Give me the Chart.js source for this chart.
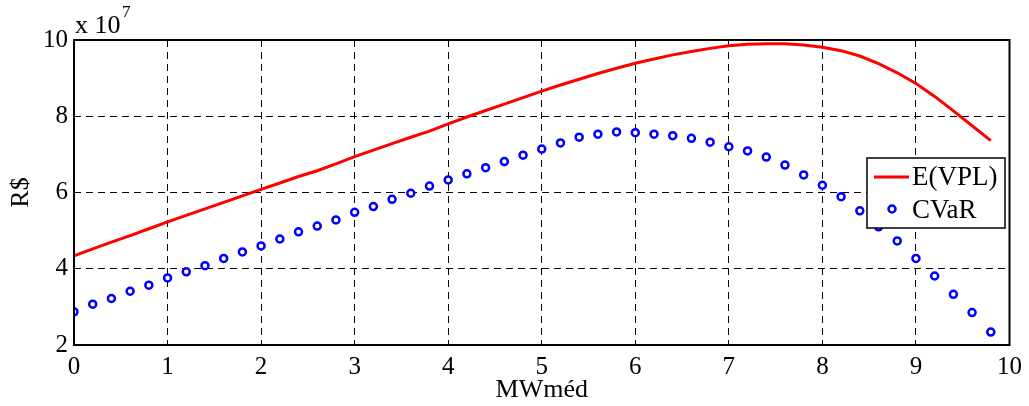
<!DOCTYPE html>
<html lang="pt-br">
<head>
    <meta charset="UTF-8">
    <title>E(VPL) x CVaR</title>
    <script src="https://cdn.jsdelivr.net/npm/chart.js"></script>
    <style>
        html, body { margin: 0; padding: 0; background: #fff; }
        .grafico { width: 1029px; height: 406px; }
    </style>
</head>
<body>
    <div class="grafico">
        <canvas id="myChart"></canvas>
    </div>

<script>
    // Dados (R$ em unidades de 10^7)
    const mwMed = [0, 0.2, 0.4, 0.6, 0.8, 1, 1.2, 1.4, 1.6, 1.8, 2, 2.2, 2.4, 2.6, 2.8,
        3, 3.2, 3.4, 3.6, 3.8, 4, 4.2, 4.4, 4.6, 4.8, 5, 5.2, 5.4, 5.6, 5.8,
        6, 6.2, 6.4, 6.6, 6.8, 7, 7.2, 7.4, 7.6, 7.8, 8, 8.2, 8.4, 8.6, 8.8,
        9, 9.2, 9.4, 9.6, 9.8];
    const eVpl = [4.34, 4.52, 4.70, 4.87, 5.05, 5.23, 5.40, 5.57, 5.74, 5.91,
        6.08, 6.25, 6.42, 6.57, 6.75, 6.94, 7.11, 7.28, 7.45, 7.61,
        7.80, 7.98, 8.15, 8.32, 8.49, 8.66, 8.82, 8.97, 9.12, 9.26,
        9.39, 9.50, 9.61, 9.70, 9.78, 9.85, 9.89, 9.90, 9.90, 9.87,
        9.81, 9.72, 9.58, 9.38, 9.14, 8.86, 8.52, 8.14, 7.75, 7.36];
    const cvar = [2.87, 3.07, 3.22, 3.41, 3.57, 3.76, 3.92, 4.08, 4.27, 4.44,
        4.60, 4.78, 4.97, 5.12, 5.28, 5.48, 5.63, 5.82, 5.98, 6.17,
        6.33, 6.49, 6.65, 6.81, 6.98, 7.14, 7.30, 7.45, 7.53, 7.59,
        7.57, 7.53, 7.49, 7.42, 7.32, 7.20, 7.09, 6.93, 6.72, 6.46,
        6.19, 5.89, 5.52, 5.10, 4.73, 4.27, 3.81, 3.33, 2.85, 2.34];
    const xTicks = [0, 1, 2, 3, 4, 5, 6, 7, 8, 9, 10];
    const yTicks = [2, 4, 6, 8, 10];
    const legendas = ['E(VPL)', 'CVaR'];

    const fonte = '"Liberation Serif", "Times New Roman", serif';

    // caixa dos eixos + legenda + "x 10^7"
    const extras = {
        id: 'extras',
        afterDraw(chart) {
            const ctx = chart.ctx;
            const a = chart.chartArea;
            ctx.save();
            ctx.strokeStyle = '#000';
            ctx.lineWidth = 2;
            ctx.strokeRect(a.left, a.top, a.right - a.left, a.bottom - a.top);

            ctx.fillStyle = '#000';
            ctx.textBaseline = 'alphabetic';
            ctx.textAlign = 'left';
            ctx.font = '26px ' + fonte;
            ctx.fillText('x 10', 75, 33);
            ctx.font = '17px ' + fonte;
            ctx.fillText('7', 122, 17);

            // legenda
            const lx = 867, ly = 158, lw = 138, lh = 70;
            ctx.fillStyle = '#fff';
            ctx.fillRect(lx, ly, lw, lh);
            ctx.strokeStyle = '#000';
            ctx.lineWidth = 1.5;
            ctx.strokeRect(lx, ly, lw, lh);

            ctx.strokeStyle = '#ff0000';
            ctx.lineWidth = 3;
            ctx.beginPath();
            ctx.moveTo(874, 177);
            ctx.lineTo(909, 177);
            ctx.stroke();

            ctx.strokeStyle = '#0000ff';
            ctx.lineWidth = 2.5;
            ctx.beginPath();
            ctx.arc(892, 209, 3.5, 0, Math.PI * 2);
            ctx.stroke();

            ctx.fillStyle = '#000';
            ctx.font = '27px ' + fonte;
            ctx.textBaseline = 'middle';
            ctx.fillText(legendas[0], 912, 178);
            ctx.fillText(legendas[1], 912, 211);
            ctx.restore();
        }
    };

    const ctx = document.getElementById('myChart');

    new Chart(ctx, {
        type: 'scatter',
        data: {
            datasets: [{
                label: legendas[0],
                data: mwMed.map((x, i) => ({ x: x, y: eVpl[i] })),
                showLine: true,
                borderColor: '#ff0000',
                borderWidth: 3,
                pointRadius: 0,
                tension: 0
            }, {
                label: legendas[1],
                data: mwMed.map((x, i) => ({ x: x, y: cvar[i] })),
                showLine: false,
                borderColor: '#0000ff',
                backgroundColor: '#ffffff',
                borderWidth: 2.5,
                pointRadius: 3.5
            }]
        },
        options: {
            responsive: true,
            maintainAspectRatio: false,
            animation: false,
            layout: {
                padding: { top: 40, right: 19, left: 0, bottom: 0 }
            },
            plugins: {
                legend: { display: false },
                tooltip: { enabled: false }
            },
            scales: {
                x: {
                    type: 'linear',
                    min: 0,
                    max: 10,
                    afterBuildTicks: scale => { scale.ticks = xTicks.map(v => ({ value: v })); },
                    afterFit: scale => { scale.height = 61; },
                    grid: { color: '#000', lineWidth: 1, drawTicks: false },
                    border: { display: false, dash: [7, 5] },
                    ticks: {
                        color: '#000',
                        padding: 7,
                        font: { family: fonte, size: 25 }
                    },
                    title: {
                        display: true,
                        text: 'MWméd',
                        color: '#000',
                        padding: { top: 0, bottom: 0 },
                        font: { family: fonte, size: 26 }
                    }
                },
                y: {
                    min: 2,
                    max: 10,
                    afterBuildTicks: scale => { scale.ticks = yTicks.map(v => ({ value: v })); },
                    afterFit: scale => { scale.width = 74; },
                    grid: { color: '#000', lineWidth: 1, drawTicks: false },
                    border: { display: false, dash: [7, 5] },
                    ticks: {
                        color: '#000',
                        padding: 6,
                        font: { family: fonte, size: 25 }
                    },
                    title: {
                        display: true,
                        text: 'R$',
                        color: '#000',
                        padding: { top: 6, bottom: 0 },
                        font: { family: fonte, size: 26 }
                    }
                }
            }
        },
        plugins: [extras]
    });
</script>
</body>
</html>
